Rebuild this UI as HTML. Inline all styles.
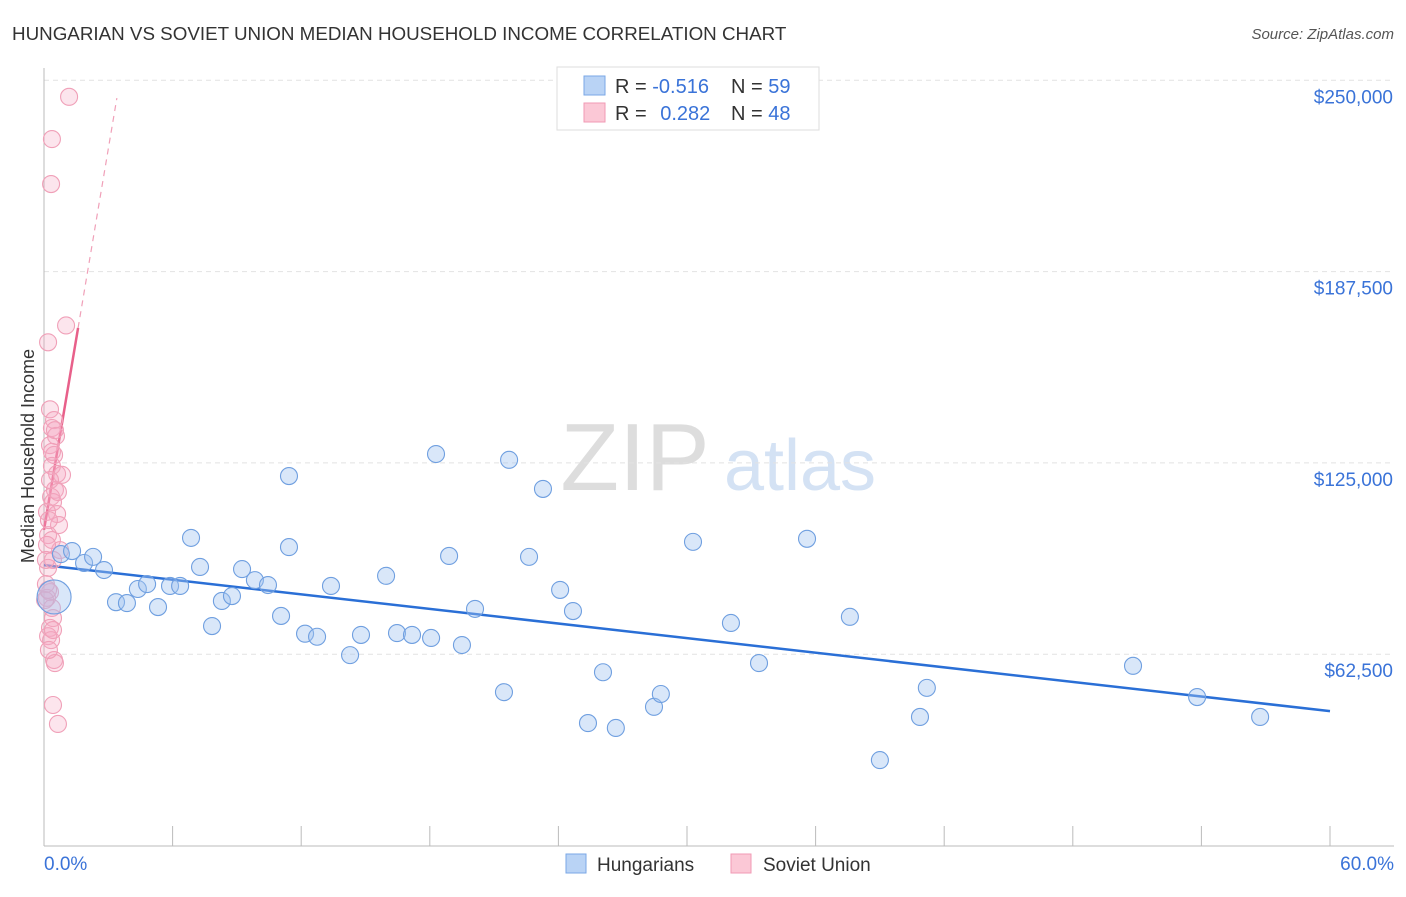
<!DOCTYPE html>
<html><head><meta charset="utf-8"><style>
body{margin:0;background:#fff;font-family:"Liberation Sans",sans-serif;}
svg text{font-family:"Liberation Sans",sans-serif;}
</style></head><body>
<svg id="chart" width="1406" height="892" xmlns="http://www.w3.org/2000/svg">
<text x="12" y="40" font-size="18.8" fill="#333">HUNGARIAN VS SOVIET UNION MEDIAN HOUSEHOLD INCOME CORRELATION CHART</text>
<text x="1394" y="39" font-size="15" fill="#555" text-anchor="end" font-style="italic">Source: ZipAtlas.com</text>
<text transform="translate(34,456) rotate(-90)" font-size="18" fill="#333" text-anchor="middle">Median Household Income</text>
<g><text x="635" y="490" font-size="96" fill="#ddd" text-anchor="middle" font-family="Liberation Serif">ZIP</text><text x="800" y="490" font-size="72" fill="#d4e2f4" text-anchor="middle">atlas</text></g>
<g id="grid"></g><g id="axes"></g><g id="trend"></g><g id="pts"></g>
<g>
<rect x="557" y="67" width="262" height="63" fill="#fff" stroke="#ddd"/>
<rect x="584" y="76" width="21" height="19" fill="#b9d3f5" stroke="#7aa7e6"/>
<rect x="584" y="103" width="21" height="19" fill="#fbc8d6" stroke="#f09ab4"/>
<text x="615" y="93" font-size="20" fill="#333">R = <tspan fill="#3a73d8">-0.516</tspan></text><text x="731" y="93" font-size="20" fill="#333">N = <tspan fill="#3a73d8">59</tspan></text>
<text x="615" y="120" font-size="20" fill="#333">R = <tspan fill="#3a73d8" dx="8">0.282</tspan></text><text x="731" y="120" font-size="20" fill="#333">N = <tspan fill="#3a73d8">48</tspan></text>
</g>
<g>
<rect x="566" y="854" width="20" height="19" fill="#b9d3f5" stroke="#7aa7e6"/><text x="597" y="871" font-size="19" fill="#333">Hungarians</text>
<rect x="731" y="854" width="20" height="19" fill="#fbc8d6" stroke="#f09ab4"/><text x="763" y="871" font-size="19" fill="#333">Soviet Union</text>
</g>
</svg>
<script>
const yTicks=[62500,125000,187500,250000];
const yTickLabels=["$62,500","$125,000","$187,500","$250,000"];
const xTickLabels=["0.0%","60.0%"];
const hunX=[0.79,1.31,1.87,2.29,2.80,3.36,3.87,4.38,4.81,5.32,5.88,6.35,6.86,7.28,7.84,8.30,8.77,9.24,9.84,10.45,11.06,11.43,11.43,12.18,12.74,13.39,14.28,14.79,15.96,16.47,17.17,18.06,18.29,18.90,19.50,20.11,21.46,21.70,22.63,23.28,24.08,24.68,25.38,26.08,26.68,28.46,28.78,30.28,32.05,33.36,35.60,37.60,39.00,40.87,41.19,50.81,53.80,56.74,0.47];
const hunY=[95.2,96.2,92.3,94.3,90.0,79.5,79.2,83.8,85.4,77.9,84.8,84.8,100.5,91.0,71.7,79.9,81.5,90.3,86.7,85.1,75.0,120.7,97.5,69.2,68.2,84.8,62.2,68.8,88.1,69.4,68.8,67.8,127.9,94.6,65.5,77.3,50.1,126.0,94.3,116.5,83.5,76.6,40.0,56.6,38.4,45.3,49.5,99.2,72.7,59.6,100.2,74.7,27.9,42.0,51.5,58.7,48.5,42.0,81.2];
const sovX=[1.17,0.37,0.33,1.03,0.19,0.28,0.47,0.37,0.56,0.28,0.47,0.37,0.61,0.51,0.33,0.42,0.61,0.70,0.19,0.37,0.75,0.42,0.19,0.28,0.14,0.37,0.42,0.28,0.19,0.33,0.47,0.51,0.42,0.65,0.09,0.14,0.84,0.28,0.23,0.14,0.51,0.37,0.05,0.19,0.23,0.42,0.65,0.09];
const sovY=[244.6,230.8,216.1,169.9,164.4,142.5,139.0,136.4,133.8,130.8,127.6,124.0,121.4,116.2,113.9,112.2,108.3,104.7,101.4,99.8,96.5,93.3,90.7,82.8,80.9,77.6,74.3,71.1,68.4,67.1,60.6,59.6,45.9,39.7,85.4,98.2,121.1,119.4,63.9,109.0,135.7,128.6,80.2,83.5,106.3,70.4,115.5,93.3];
const hunTrend=[91.6,43.9];
const sovTrend=[103.1,41.5];
const X0=44,X1=1330,YB=845.5,PX_PER_K=191.3/62.5;
const xs=p=>X0+(X1-X0)*p/60;
const ys=k=>YB-k*PX_PER_K;
const NS="http://www.w3.org/2000/svg";
function mk(tag,attrs,parent){const e=document.createElementNS(NS,tag);for(const k in attrs)e.setAttribute(k,attrs[k]);document.getElementById(parent).appendChild(e);return e;}
yTicks.forEach((v,i)=>{const y=ys(v/1000);
const g=mk('line',{x1:44,x2:1394,y1:y,y2:y,stroke:'#e2e2e2','stroke-dasharray':'5,4'},'grid');


const t=mk('text',{x:1393,y:y+23,'font-size':19,fill:'#3a73d8','text-anchor':'end'},'axes');t.textContent=yTickLabels[i];

});
let a=mk('line',{x1:44,x2:44,y1:68,y2:846,stroke:'#bbb'},'axes');


a=mk('line',{x1:44,x2:1394,y1:846,y2:846,stroke:'#bbb'},'axes');


for(let i=0;i<=10;i++){const x=xs(i*6);const tk=mk('line',{x1:x,x2:x,y1:826,y2:846,stroke:'#bbb'},'axes');

}
[[0,'start',44],[60,'end',1394]].forEach((d,i)=>{const t=mk('text',{x:d[2],y:870,'font-size':19,fill:'#3a73d8','text-anchor':d[1]},'axes');t.textContent=xTickLabels[i];

});
let l=mk('line',{x1:xs(0),y1:ys(hunTrend[0]),x2:xs(60),y2:ys(hunTrend[1]),stroke:'#2a6fd6','stroke-width':2.5},'trend');


const sv=p=>sovTrend[0]+sovTrend[1]*p;
l=mk('line',{x1:xs(0),y1:ys(sv(0)),x2:xs(1.59),y2:ys(sv(1.59)),stroke:'#e8608a','stroke-width':2.5},'trend');


l=mk('line',{x1:xs(1.59),y1:ys(sv(1.59)),x2:xs(3.4),y2:ys(sv(3.4)),stroke:'#f0a0b8','stroke-width':1.2,'stroke-dasharray':'6,5'},'trend');


sovX.forEach((p,i)=>{const c=mk('circle',{cx:xs(p),cy:ys(sovY[i]),r:8.5,fill:'rgba(246,168,194,0.3)',stroke:'#f0a0b8','stroke-width':1.1},'pts');

});
hunX.forEach((p,i)=>{const big=i===hunX.length-1;const c=mk('circle',{cx:xs(p),cy:ys(hunY[i]),r:big?17:8.5,fill:'rgba(160,196,240,0.4)',stroke:'#6f9fe0','stroke-width':1.1},'pts');

});
</script>
</body></html>
